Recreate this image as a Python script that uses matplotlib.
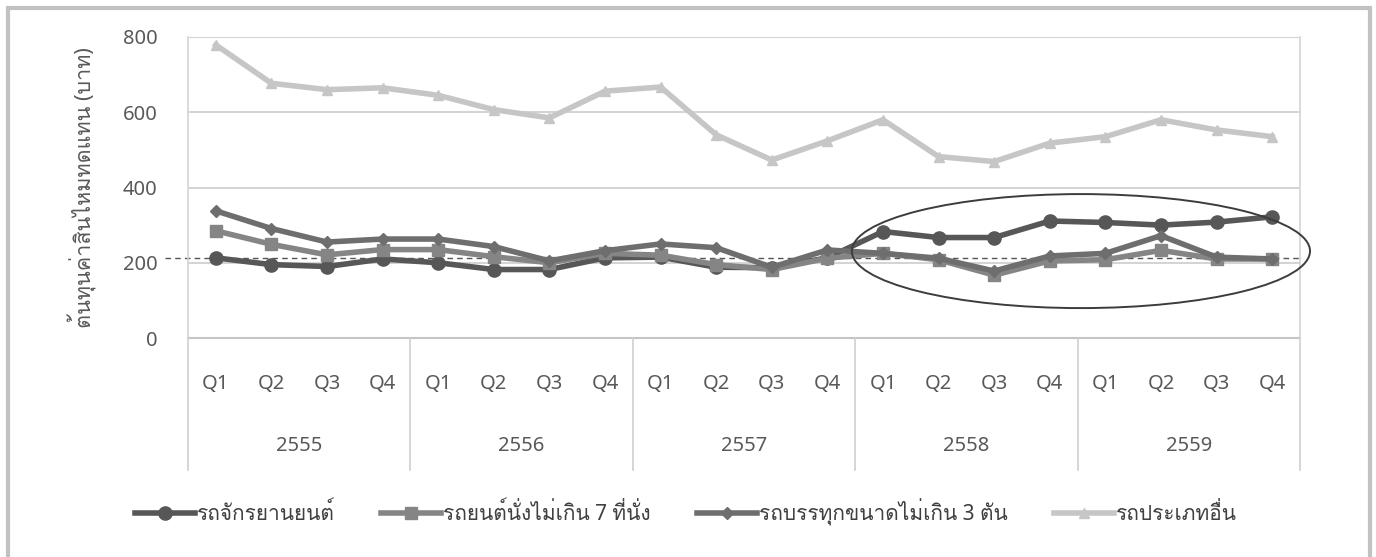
import matplotlib
matplotlib.use("Agg")
import matplotlib.pyplot as plt
from matplotlib.patches import Ellipse, Rectangle
import matplotlib.transforms as mtransforms
import warnings
warnings.filterwarnings("ignore")

plt.rcParams['font.family'] = ['Noto Sans', 'Loma', 'Sarabun', 'Noto Sans Thai', 'DejaVu Sans']

# ---- data ----
years = ['2555', '2556', '2557', '2558', '2559']
quarters = ['Q1', 'Q2', 'Q3', 'Q4']
series_names = ['รถจักรยานยนต์', 'รถยนต์นั่งไม่เกิน 7 ที่นั่ง', 'รถบรรทุกขนาดไม่เกิน 3 ตัน', 'รถประเภทอื่น']
motorcycle = [213, 195, 190, 210, 200, 182, 182, 213, 215, 188, 187, 213, 283, 267, 267, 311, 307, 300, 308, 322]
car = [285, 249, 221, 235, 235, 216, 200, 225, 220, 195, 182, 212, 225, 208, 167, 205, 208, 233, 210, 210]
truck = [338, 291, 255, 263, 263, 243, 205, 232, 250, 240, 188, 234, 225, 212, 178, 218, 225, 272, 215, 210]
other = [779, 677, 660, 665, 645, 607, 585, 656, 667, 540, 473, 524, 580, 482, 469, 518, 535, 580, 553, 535]
reference_level = 213
y_ticks = [0, 200, 400, 600, 800]
y_label = 'ต้นทุนค่าสินไหมทดแทน (บาท)'

W, H = 1376, 557
fig = plt.figure(figsize=(W / 100, H / 100), dpi=100)

def fx(px):
    return px / W

def fy(py):
    return 1 - py / H

left, right, top, bottom = 188, 1300, 37, 338
ax = fig.add_axes([fx(left), fy(bottom), fx(right - left), (bottom - top) / H])

n = len(years) * len(quarters)
xs = list(range(n))
text_col = '#595959'

styles = [
    dict(color='#575757', marker='o', ms=9.5, lw=4.0),
    dict(color='#858585', marker='s', ms=9, lw=4.0),
    dict(color='#6e6e6e', marker='D', ms=6.5, lw=4.0),
    dict(color='#c6c6c6', marker='^', ms=7.5, lw=4.0),
]
data = [motorcycle, car, truck, other]
handles = []
for vals, st, name in zip(data, styles, series_names):
    h, = ax.plot(xs, vals, color=st['color'], marker=st['marker'], ms=st['ms'],
                 lw=st['lw'], mec=st['color'], mfc=st['color'], label=name,
                 solid_joinstyle='round', clip_on=False, zorder=3)
    handles.append(h)

ax.set_xlim(-0.5, n - 0.5)
ax.set_ylim(0, 800)
ax.set_yticks(y_ticks)
ax.set_yticklabels([str(v) for v in y_ticks], fontsize=14.5, color=text_col)
ax.tick_params(axis='y', length=0, pad=22)
ax.set_xticks([])
for s in ['top', 'bottom']:
    ax.spines[s].set_visible(False)
for s in ['left', 'right']:
    ax.spines[s].set_color('#d4d4d4')
    ax.spines[s].set_linewidth(1.2)
for v in y_ticks[1:]:
    ax.axhline(v, color='#d4d4d4', lw=1.5, zorder=1)
ax.axhline(0, color='#c4c4c4', lw=1.5, zorder=1, clip_on=False)

# dashed reference line
trans_ay = mtransforms.blended_transform_factory(ax.transAxes, ax.transData)
ax.plot([-0.021, 1.0], [reference_level, reference_level], transform=trans_ay,
        color='#555555', lw=1.0, ls=(0, (4, 3)), clip_on=False, zorder=2)

# category axis (two levels)
trans_xa = mtransforms.blended_transform_factory(ax.transData, ax.transAxes)
for i in xs:
    ax.text(i, -0.152, quarters[i % 4], transform=trans_xa, ha='center', va='center',
            fontsize=14.5, color=text_col)
for j, yr in enumerate(years):
    ax.text(j * 4 + 1.5, -0.36, yr, transform=trans_xa, ha='center', va='center',
            fontsize=14.5, color=text_col)
for j in range(len(years) + 1):
    ax.plot([j * 4 - 0.5, j * 4 - 0.5], [0, -0.44], transform=trans_xa,
            color='#d0d0d0', lw=1.2, clip_on=False)

ax.set_ylabel(y_label, fontsize=15.5, color=text_col)
ax.yaxis.set_label_coords((97 - left) / (right - left), 0.5)

# highlight ellipse
ell = Ellipse((15.56, 231), width=8.24, height=303, fill=False, ec='#3c3c3c', lw=1.4,
              clip_on=False, zorder=4)
ax.add_patch(ell)

# legend
leg = fig.legend(handles=handles, loc='center', bbox_to_anchor=(fx(686), fy(512)), ncol=4,
                 frameon=False, fontsize=15, handlelength=2.9, handletextpad=0.1,
                 columnspacing=2.2, labelcolor='#404040')

# outer border
fig.patches.append(Rectangle((fx(8), fy(600)), fx(1370 - 8), (600 - 8) / H,
                             transform=fig.transFigure, fill=False, ec='#c2c2c2', lw=3.0))

fig.savefig('out.png', dpi=100)
